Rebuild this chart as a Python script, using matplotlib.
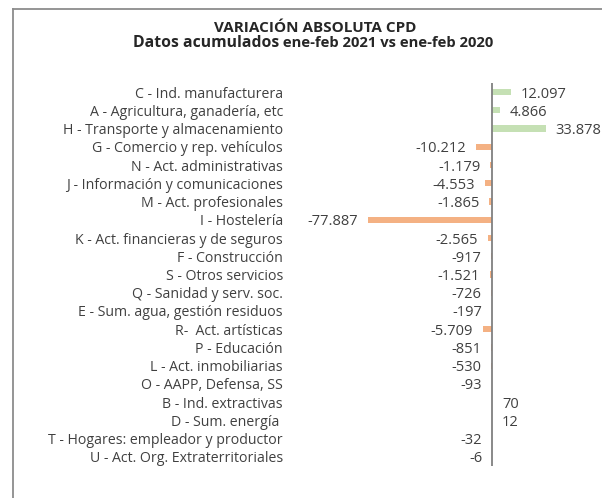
import matplotlib
matplotlib.use("Agg")
import matplotlib.pyplot as plt
from matplotlib.lines import Line2D

plt.rcParams['font.family'] = ['Open Sans', 'DejaVu Sans']

categories = [
    "C - Ind. manufacturera",
    "A - Agricultura, ganadería, etc",
    "H - Transporte y almacenamiento",
    "G - Comercio y rep. vehículos",
    "N - Act. administrativas",
    "J - Información y comunicaciones",
    "M - Act. profesionales",
    "I - Hostelería",
    "K - Act. financieras y de seguros",
    "F - Construcción",
    "S - Otros servicios",
    "Q - Sanidad y serv. soc.",
    "E - Sum. agua, gestión residuos",
    "R-  Act. artísticas",
    "P - Educación",
    "L - Act. inmobiliarias",
    "O - AAPP, Defensa, SS",
    "B - Ind. extractivas",
    "D - Sum. energía ",
    "T - Hogares: empleador y productor",
    "U - Act. Org. Extraterritoriales",
]
values = [12097, 4866, 33878, -10212, -1179, -4553, -1865, -77887, -2565,
          -917, -1521, -726, -197, -5709, -851, -530, -93, 70, 12, -32, -6]

title = "VARIACIÓN ABSOLUTA CPD"
subtitle_a = "Datos acumulados"
subtitle_b = " ene-feb 2021 vs ene-feb 2020"

POS = "#c5e0b4"
NEG = "#f4b183"
TXT = "#404040"

fig = plt.figure(figsize=(6.02, 4.98), dpi=100)
ax = fig.add_axes([301/602, (498-466)/498, 302.5/602, 383/498])

ys = list(range(len(categories)))
colors = [POS if v >= 0 else NEG for v in values]
ax.barh(ys, values, height=0.34, color=colors, zorder=2)
ax.axvline(0, color="#808080", lw=1.3, zorder=3)

ax.set_xlim(-120000, 70000)
ax.set_ylim(len(categories) - 0.5, -0.5)
ax.set_yticks(ys)
ax.set_yticklabels(categories, fontsize=10.2, color=TXT)
ax.tick_params(axis='y', length=0, pad=13)
ax.set_xticks([])
for s in ax.spines.values():
    s.set_visible(False)
ax.patch.set_alpha(0)

for y, v in zip(ys, values):
    lab = f"{v:,}".replace(",", ".")
    off = 7 if v >= 0 else -7
    ax.annotate(lab, xy=(v, y), xytext=(off, 0), textcoords="offset points",
                ha="left" if v >= 0 else "right", va="center_baseline",
                fontsize=10.5, color=TXT, annotation_clip=False)

fig.text(315/602, 1 - 32/498, title, ha="center", va="baseline",
         fontsize=11, fontweight="bold", color="#262626")
fig.text(279/602, 1 - 47/498, subtitle_a, ha="right", va="baseline",
         fontsize=11.3, fontweight="bold", color="#262626")
fig.text(279/602, 1 - 47/498, subtitle_b, ha="left", va="baseline",
         fontsize=10.6, fontweight="bold", color="#262626")

# outer frame (partially cropped)
fig.add_artist(Line2D([13/602, 13/602], [0, 1 - 9/498], color="#8c8c8c", lw=1.3,
                      transform=fig.transFigure))
fig.add_artist(Line2D([13/602, 1], [1 - 9/498, 1 - 9/498], color="#8c8c8c", lw=1.3,
                      transform=fig.transFigure))

fig.savefig("out.png", dpi=100)
